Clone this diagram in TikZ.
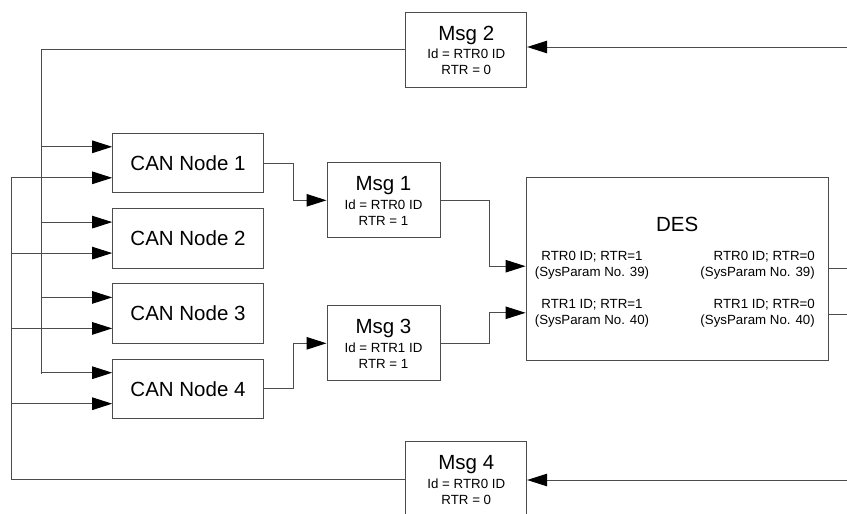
\documentclass[tikz,border=0pt]{standalone}
\usepackage{fontspec}
\setmainfont{Liberation Sans}
\usetikzlibrary{arrows.meta,calc}
\definecolor{lc}{gray}{0.3}
\tikzset{
  ln/.style={draw=lc, line width=1pt},
  arr/.style={ln, -{Triangle[length=20pt,width=12.5pt,fill=black,color=black]}},
  box/.style={draw=lc, line width=1pt, inner sep=0pt, fill=white},
  nodebox/.style={box, minimum width=150.6pt, minimum height=59.4pt, font=\fontsize{20.5pt}{24pt}\selectfont},
  msgbox/.style={box, minimum width=113pt, minimum height=75.3pt},
  msgbox2/.style={box, minimum width=120.7pt, minimum height=75pt},
  big/.style={inner sep=0pt, anchor=base, font=\fontsize{20.5pt}{24pt}\selectfont},
  small/.style={inner sep=0pt, anchor=base, font=\fontsize{13.3pt}{16pt}\selectfont},
}
\begin{document}
\begin{tikzpicture}[x=1pt,y=-1pt]
\useasboundingbox (0,0) rectangle (847,514);
\clip (0,0) rectangle (847,514);
% CAN nodes
\node[nodebox] (n1) at (188,163.0) {CAN Node 1};
\node[nodebox] (n2) at (188,238.3) {CAN Node 2};
\node[nodebox] (n3) at (188,313.6) {CAN Node 3};
\node[nodebox] (n4) at (188,388.9) {CAN Node 4};
% messages
\node[msgbox] (m1) at (383.5,200.3) {};
\node[msgbox] (m3) at (383.5,343.3) {};
\node[msgbox2] (m2) at (466.3,49.8) {};
\node[msgbox2] (m4) at (466.3,479.2) {};
\node[big]   (m1a) at ($(m1.north)+(0,28.3)$) {Msg 1};
\node[small] (m1b) at ($(m1.north)+(0,47)$) {Id = RTR0 ID};
\node[small] (m1c) at ($(m1.north)+(0,63)$) {RTR = 1};
\node[big]   (m3a) at ($(m3.north)+(0,28.3)$) {Msg 3};
\node[small] (m3b) at ($(m3.north)+(0,47)$) {Id = RTR1 ID};
\node[small] (m3c) at ($(m3.north)+(0,63)$) {RTR = 1};
\node[big]   (m2a) at ($(m2.north)+(0,28.3)$) {Msg 2};
\node[small] (m2b) at ($(m2.north)+(0,47)$) {Id = RTR0 ID};
\node[small] (m2c) at ($(m2.north)+(0,63)$) {RTR = 0};
\node[big]   (m4a) at ($(m4.north)+(0,28.3)$) {Msg 4};
\node[small] (m4b) at ($(m4.north)+(0,47)$) {Id = RTR0 ID};
\node[small] (m4c) at ($(m4.north)+(0,63)$) {RTR = 0};
% DES
\node[box, minimum width=302.3pt, minimum height=183.4pt] (des) at (677.2,269) {};
\node[big] (desa) at (677.2,231.7) {DES};
\node[small] (d1) at (592,260) {RTR0 ID; RTR=1};
\node[small] (d2) at (592,276) {(SysParam No. 39)};
\node[small] (d3) at (592,308.3) {RTR1 ID; RTR=1};
\node[small] (d4) at (592,324.3) {(SysParam No. 40)};
\node[small, anchor=base east] (d5) at (815,260) {RTR0 ID; RTR=0};
\node[small, anchor=base east] (d6) at (815,276) {(SysParam No. 39)};
\node[small, anchor=base east] (d7) at (815,308.3) {RTR1 ID; RTR=0};
\node[small, anchor=base east] (d8) at (815,324.3) {(SysParam No. 40)};
% free ends
\coordinate (r2) at (847,47);
\coordinate (r4) at (847,480);
\coordinate (o1) at (847,268.3);
\coordinate (o2) at (847,314);
\coordinate (b1) at (41,373.9);
\coordinate (b2) at (11,178.3);
% buses
\draw[ln] (m2.west) -| (b1);
\draw[ln] (m4.west) -| (b2);
\foreach \i in {1,...,4}{
  \draw[arr] ($(n\i.north west)+(-71.7,14)$) -- ($(n\i.north west)+(0,14)$);
  \draw[arr] ($(n\i.north west)+(-101.7,45)$) -- ($(n\i.north west)+(0,45)$);
}
% incoming to Msg2 / Msg4
\draw[arr] (r2) -- (m2.east |- r2);
\draw[arr] (r4) -- (m4.east |- r4);
% nodes to messages
\draw[arr] (n1.east) -- ++(30,0) |- (m1.west);
\draw[arr] (n4.east) -- ++(30,0) |- (m3.west);
% messages to DES
\draw[arr] (m1.east) -- ++(48.7,0) |- ($(des.north west)+(0,89.4)$);
\draw[arr] (m3.east) -- ++(48.7,0) |- ($(des.north west)+(0,136)$);
% DES outputs
\draw[ln] (des.east |- o1) -- (o1);
\draw[ln] (des.east |- o2) -- (o2);
\end{tikzpicture}
\end{document}
